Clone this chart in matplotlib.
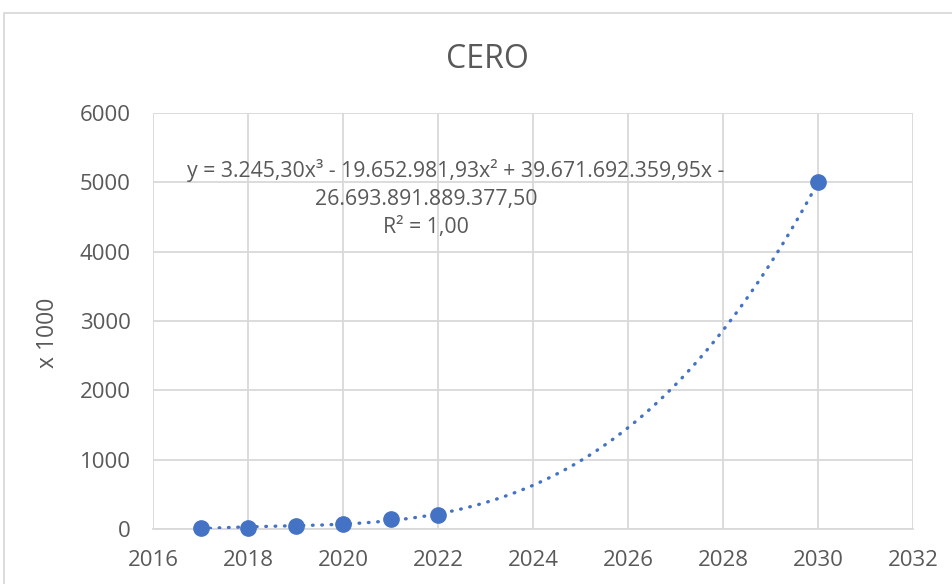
import numpy as np
import matplotlib.pyplot as plt
from matplotlib.patches import Rectangle

# data
years = [2017, 2018, 2019, 2020, 2021, 2022, 2030]
values = [10, 20, 40, 75, 140, 205, 5000]  # x 1000

x_ticks = [2016, 2018, 2020, 2022, 2024, 2026, 2028, 2030, 2032]
y_ticks = [0, 1000, 2000, 3000, 4000, 5000, 6000]

title = "CERO"
y_label = "x 1000"
eq_line1 = "y = 3.245,30x³ - 19.652.981,93x² + 39.671.692.359,95x -"
eq_line2 = "26.693.891.889.377,50"
eq_line3 = "R² = 1,00"

blue = "#4472C4"
grey_text = "#595959"
grid_grey = "#d9d9d9"

plt.rcParams['font.family'] = ['Open Sans', 'DejaVu Sans']

W, H = 952, 584
fig = plt.figure(figsize=(W / 100, H / 100), dpi=100)
ax = fig.add_axes([153 / W, 1 - 529 / H, (913 - 153) / W, (529 - 113) / H])

# cubic trendline (polynomial fit, like Excel)
xa = np.array(years, dtype=float)
ya = np.array(values, dtype=float)
coef = np.polyfit(xa - 2017, ya, 3)
xs = np.linspace(min(years), max(years), 300)
ax.plot(xs, np.polyval(coef, xs - 2017), color=blue, lw=2.4,
        linestyle=(0, (0.2, 2.6)), dash_capstyle='round', zorder=3)

ax.plot(years, values, 'o', color=blue, markersize=11, zorder=4, clip_on=False)

ax.set_xlim(2016, 2032)
ax.set_ylim(0, 6000)
ax.set_xticks(x_ticks)
ax.set_yticks(y_ticks)
ax.tick_params(length=0, labelsize=16, labelcolor=grey_text)
ax.tick_params(axis='x', pad=15)
ax.tick_params(axis='y', pad=16)
ax.grid(True, color=grid_grey, lw=1.3, zorder=0)
ax.set_axisbelow(True)
for s in ['top', 'right', 'left']:
    ax.spines[s].set_visible(False)
ax.spines['bottom'].set_color(grid_grey)
ax.spines['bottom'].set_linewidth(1.3)

fig.text(487 / W, 1 - 68 / H, title, ha='center', va='baseline',
         fontsize=23, color=grey_text)
fig.text(48 / W, 1 - 333 / H, y_label, rotation=90, ha='center', va='center',
         fontsize=16.5, color=grey_text)

fig.text(456 / W, 1 - 171 / H, eq_line1, ha='center', va='center',
         fontsize=15.3, color=grey_text)
fig.text(426 / W, 1 - 199 / H, eq_line2, ha='center', va='center',
         fontsize=15.3, color=grey_text)
fig.text(426 / W, 1 - 227 / H, eq_line3, ha='center', va='center',
         fontsize=15.3, color=grey_text)

# outer chart frame (cut off on the right and bottom)
fig.add_artist(Rectangle((4 / W, -0.1), 1.2, 1 - 13 / H + 0.1,
                         transform=fig.transFigure, fill=False,
                         ec=grid_grey, lw=1.3))

fig.savefig("out.png", dpi=100)
